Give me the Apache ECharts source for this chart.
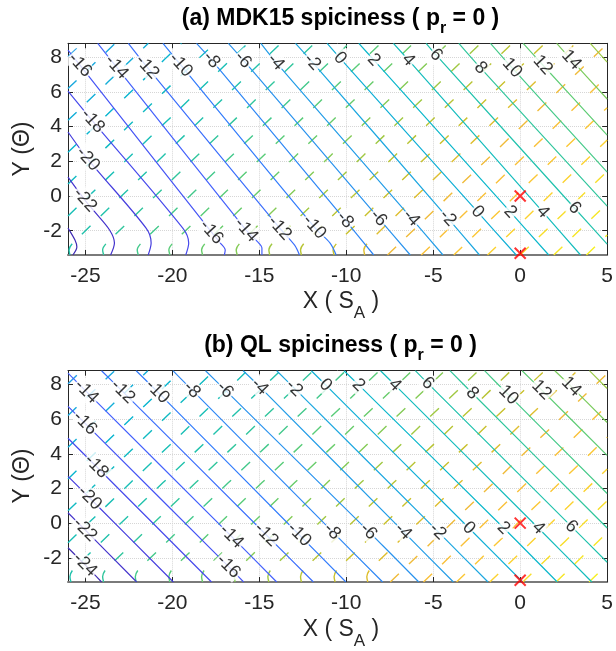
<!DOCTYPE html>
<html><head><meta charset="utf-8">
<script src="https://cdn.jsdelivr.net/npm/echarts@6/dist/echarts.min.js"></script>
<style>html,body{margin:0;padding:0;background:#fff}#c{width:616px;height:651px}</style>
</head><body><div id="c"></div>
<script>
// ---------- shared axes ----------
const xRange = [-26, 5];
const yRange = [-3.4, 8.8];
const xTicks = [-25, -20, -15, -10, -5, 0, 5];
const yTicks = [-2, 0, 2, 4, 6, 8];
const markerX = [0, 0];
const markerY = [0, -3.3];

// ---------- panel (a) MDK15 ----------
const mdkLevels = [-24,-22,-20,-18,-16,-14,-12,-10,-8,-6,-4,-2,0,2,4,6,8,10,12,14,16];
const mdkLines = [
 [[-26,-1.85],[-25.60,-2.54],[-25.49,-2.94],[-25.72,-3.40]],
 [[-26,1.09],[-25.03,-0.23],[-24.46,-0.92],[-23.61,-1.96],[-23.33,-2.71],[-23.55,-3.40]],
 [[-26,3.69],[-24.86,2.13],[-21.51,-1.85],[-21.22,-2.71],[-21.39,-3.40]],
 [[-26,6.05],[-24.58,4.32],[-19.40,-1.85],[-19.06,-2.71],[-19.23,-3.40]],
 [[-26,8.41],[-25.32,7.55],[-17.75,-2.08],[-17.24,-2.71],[-16.96,-3.11],[-17.01,-3.40]],
 [[-24.29,8.8],[-23.21,7.43],[-15.76,-1.96],[-15.19,-2.54],[-14.85,-3.00],[-14.85,-3.40]],
 [[-22.53,8.8],[-21.45,7.43],[-13.83,-1.85],[-12.97,-2.83],[-12.69,-3.40]],
 [[-20.54,8.8],[-19.52,7.55],[-11.84,-1.79],[-10.93,-2.71],[-10.58,-3.40]],
 [[-18.61,8.8],[-17.75,7.84],[-10.07,-1.38],[-8.42,-3.40]],
 [[-16.78,8.8],[-15.93,7.84],[-8.14,-1.27],[-6.32,-3.40]],
 [[-14.91,8.8],[-14.05,7.72],[-6.26,-1.27],[-4.44,-3.40]],
 [[-12.92,8.8],[-11.95,7.72],[-4.16,-1.27],[-2.34,-3.40]],
 [[-11.10,8.8],[-10.36,7.95],[-2.45,-0.92],[-0.23,-3.40]],
 [[-9.28,8.8],[-8.42,7.84],[-0.57,-0.92],[1.64,-3.40]],
 [[-7.29,8.8],[-6.43,7.84],[1.30,-0.92],[3.47,-3.40]],
 [[-5.41,8.8],[-4.84,8.13],[3.12,-0.69],[5.0,-2.77]],
 [[-3.53,8.8],[-2.28,7.38],[5.0,-0.58]],
 [[-1.71,8.8],[-0.46,7.38],[5.0,1.38]],
 [[0.17,8.8],[1.30,7.55],[5.0,3.51]],
 [[2.10,8.8],[2.95,7.84],[5.0,5.59]],
 [[4.03,8.8],[5.0,7.72]]
];
const mdkLabelText = ['-16','-14','-12','-10','-8','-6','-4','-2','0','2','4','6','8','10','12','14',
  '-18','-20','-22',
  '-16','-14','-12','-10','-8','-6','-4','-2','0','2','4','6'];
const mdkLabelX = [-25.32,-23.21,-21.45,-19.52,-17.75,-15.93,-14.05,-11.95,-10.36,-8.42,-6.43,-4.84,-2.28,-0.46,1.30,2.95,
  -24.58,-24.86,-25.03,
  -17.75,-15.76,-13.83,-11.84,-10.07,-8.14,-6.26,-4.16,-2.45,-0.57,1.30,3.12];
const mdkLabelY = [7.55,7.43,7.43,7.55,7.84,7.84,7.72,7.72,7.95,7.84,7.84,8.13,7.38,7.38,7.55,7.84,
  4.32,2.13,-0.23,
  -2.08,-1.96,-1.85,-1.79,-1.38,-1.27,-1.27,-1.27,-0.92,-0.92,-0.92,-0.69];
const mdkDensityLines = [
 [[-26,8.02],[-25.19,8.8]],
 [[-26,6.19],[-23.29,8.8]],
 [[-26,4.36],[-21.38,8.8]],
 [[-26,2.52],[-19.48,8.8]],
 [[-26,0.69],[-17.57,8.8]],
 [[-26,-1.15],[-15.66,8.8]],
 [[-25.89,-3.4],[-25.94,-3.11],[-25.66,-2.65],[-13.76,8.8]],
 [[-23.95,-3.4],[-24.01,-3.11],[-23.72,-2.65],[-11.82,8.8]],
 [[-21.96,-3.4],[-22.02,-3.11],[-21.73,-2.65],[-9.83,8.8]],
 [[-20.14,-3.4],[-20.20,-3.11],[-19.91,-2.65],[-8.01,8.8]],
 [[-18.26,-3.4],[-18.32,-3.11],[-18.04,-2.65],[-6.14,8.8]],
 [[-16.27,-3.4],[-16.33,-3.11],[-16.05,-2.65],[-4.15,8.8]],
 [[-14.40,-3.4],[-14.45,-3.11],[-14.17,-2.65],[-2.27,8.8]],
 [[-12.58,-3.4],[-12.63,-3.11],[-12.35,-2.65],[-0.45,8.8]],
 [[-10.70,-3.4],[-10.76,-3.11],[-10.47,-2.65],[1.43,8.8]],
 [[-8.94,-3.4],[-8.99,-3.11],[-8.71,-2.65],[3.19,8.8]],
 [[-7.63,-3.4],[5.0,8.76]],
 [[-5.69,-3.4],[5.0,6.89]],
 [[-3.82,-3.4],[5.0,5.09]],
 [[-1.88,-3.4],[5.0,3.23]],
 [[0.0,-3.4],[5.0,1.42]],
 [[1.93,-3.4],[5.0,-0.44]],
 [[3.81,-3.4],[5.0,-2.25]]
];
const mdkDensityShade = [0.36,0.39,0.41,0.44,0.47,0.50,0.52,0.55,0.58,0.61,0.63,0.66,0.69,0.72,0.74,0.77,0.80,0.83,0.85,0.88,0.91,0.93,0.96];

// ---------- panel (b) QL ----------
const qlLevels = [-24,-22,-20,-18,-16,-14,-12,-10,-8,-6,-4,-2,0,2,4,6,8,10,12,14,16];
const qlLines = [
 [[-26,-1.42],[-25.03,-2.40],[-24.07,-3.4]],
 [[-26,0.60],[-25.03,-0.38],[-22.05,-3.4]],
 [[-26,2.70],[-24.75,1.45],[-19.94,-3.4]],
 [[-26,4.90],[-24.37,3.27],[-17.75,-3.4]],
 [[-26,6.74],[-25.03,5.77],[-16.78,-2.50],[-15.90,-3.4]],
 [[-26,8.66],[-24.94,7.59],[-16.60,-0.77],[-14.00,-3.4]],
 [[-24.07,8.8],[-22.85,7.59],[-14.61,-0.67],[-11.89,-3.4]],
 [[-22.08,8.8],[-20.86,7.59],[-12.71,-0.67],[-10.02,-3.4]],
 [[-19.97,8.8],[-18.87,7.69],[-10.81,-0.48],[-7.91,-3.4]],
 [[-18.09,8.8],[-16.97,7.69],[-8.72,-0.48],[-5.83,-3.4]],
 [[-15.93,8.8],[-14.98,7.88],[-6.73,-0.48],[-3.84,-3.4]],
 [[-14.00,8.8],[-12.99,7.79],[-4.74,-0.48],[-1.85,-3.4]],
 [[-12.01,8.8],[-11.19,7.98],[-2.95,-0.28],[0.14,-3.4]],
 [[-10.13,8.8],[-9.29,7.98],[-0.95,-0.28],[2.13,-3.4]],
 [[-8.03,8.8],[-7.21,7.98],[1.04,-0.28],[4.12,-3.4]],
 [[-6.03,8.8],[-5.31,8.07],[2.94,-0.19],[5.0,-2.26]],
 [[-4.04,8.8],[-2.75,7.50],[5.0,-0.28]],
 [[-2.05,8.8],[-0.67,7.40],[5.0,1.71]],
 [[0.11,8.8],[1.23,7.69],[5.0,3.91]],
 [[1.99,8.8],[2.94,7.88],[5.0,5.81]],
 [[3.98,8.8],[5.0,7.77]]
];
const qlLabelText = ['-14','-12','-10','-8','-6','-4','-2','0','2','4','6','8','10','12','14',
  '-16','-18','-20','-22','-24',
  '-16','-14','-12','-10','-8','-6','-4','-2','0','2','4','6'];
const qlLabelX = [-24.94,-22.85,-20.86,-18.87,-16.97,-14.98,-12.99,-11.19,-9.29,-7.21,-5.31,-2.75,-0.67,1.23,2.94,
  -25.03,-24.37,-24.75,-25.03,-25.03,
  -16.78,-16.60,-14.61,-12.71,-10.81,-8.72,-6.73,-4.74,-2.95,-0.95,1.04,2.94];
const qlLabelY = [7.59,7.59,7.59,7.69,7.69,7.88,7.79,7.98,7.98,7.98,8.07,7.50,7.40,7.69,7.88,
  5.77,3.27,1.45,-0.38,-2.40,
  -2.50,-0.77,-0.67,-0.67,-0.48,-0.48,-0.48,-0.48,-0.28,-0.28,-0.28,-0.19];
const qlDensityLines = [
 [[-26,8.05],[-25.22,8.8]],
 [[-26,6.21],[-23.32,8.8]],
 [[-26,4.38],[-21.41,8.8]],
 [[-26,2.55],[-19.50,8.8]],
 [[-26,0.71],[-17.60,8.8]],
 [[-26,-1.13],[-15.69,8.8]],
 [[-25.83,-3.4],[-25.89,-3.09],[-25.66,-2.63],[-13.79,8.8]],
 [[-23.95,-3.4],[-24.01,-3.09],[-23.78,-2.63],[-11.91,8.8]],
 [[-22.08,-3.4],[-22.13,-3.09],[-21.90,-2.63],[-10.03,8.8]],
 [[-20.14,-3.4],[-20.20,-3.09],[-19.97,-2.63],[-8.10,8.8]],
 [[-18.26,-3.4],[-18.32,-3.09],[-18.09,-2.63],[-6.22,8.8]],
 [[-16.39,-3.4],[-16.44,-3.09],[-16.22,-2.63],[-4.34,8.8]],
 [[-14.45,-3.4],[-14.51,-3.09],[-14.28,-2.63],[-2.41,8.8]],
 [[-12.58,-3.4],[-12.63,-3.09],[-12.40,-2.63],[-0.53,8.8]],
 [[-10.64,-3.4],[-10.70,-3.09],[-10.47,-2.63],[1.40,8.8]],
 [[-8.76,-3.4],[-8.82,-3.09],[-8.59,-2.63],[3.28,8.8]],
 [[-7.47,-3.4],[5.0,8.63]],
 [[-5.56,-3.4],[5.0,6.79]],
 [[-3.66,-3.4],[5.0,4.96]],
 [[-1.75,-3.4],[5.0,3.12]],
 [[0.15,-3.4],[5.0,1.29]],
 [[2.06,-3.4],[5.0,-0.55]],
 [[3.96,-3.4],[5.0,-2.38]]
];
const qlDensityShade = [0.36,0.39,0.41,0.44,0.47,0.50,0.52,0.55,0.58,0.61,0.63,0.66,0.69,0.72,0.74,0.77,0.80,0.83,0.85,0.88,0.91,0.93,0.96];

// ---------- styling helpers ----------
const PARULA = [[0.2422,0.1504,0.6603],[0.2706,0.2147,0.8364],[0.2813,0.3006,0.9414],[0.2699,0.3892,0.9906],
 [0.1963,0.4847,0.9892],[0.1687,0.5703,0.9359],[0.1248,0.6459,0.8883],[0.0297,0.7082,0.8163],
 [0.0964,0.7500,0.7120],[0.2161,0.7843,0.5923],[0.3909,0.8029,0.4354],[0.6174,0.7876,0.2612],
 [0.8203,0.7498,0.1535],[0.9728,0.7298,0.2394],[0.9892,0.8136,0.1885],[0.9597,0.9135,0.1423],[0.9769,0.9839,0.0805]];
function parula(t){
  t = Math.max(0, Math.min(1, t));
  const f = t * 16, i = Math.min(15, Math.floor(f)), r = f - i;
  const a = PARULA[i], b = PARULA[i+1];
  const c = a.map((v,k)=>Math.round(255*(v + (b[k]-v)*r)));
  return 'rgb(' + c.join(',') + ')';
}
const FONT = 'Liberation Sans, Arial, Helvetica, sans-serif';
const AX = '#262626';

function xAxesFor(g){
  return [
    {type:'value', gridIndex:g, min:xRange[0], max:xRange[1], position:'bottom',
     axisLine:{show:true, onZero:false, lineStyle:{color:'#7a7a7a', width:2}},
     axisTick:{show:true, inside:true, length:5, customValues:xTicks, lineStyle:{color:AX}},
     axisLabel:{show:true, customValues:xTicks, color:AX, fontSize:21, fontFamily:FONT, margin:11},
     splitLine:{show:true, lineStyle:{color:'#d6d6d6', type:'dotted', width:1}}},
    {type:'value', gridIndex:g, min:xRange[0], max:xRange[1], position:'top',
     axisLine:{show:true, onZero:false, lineStyle:{color:AX, width:1}},
     axisTick:{show:true, inside:true, length:5, customValues:xTicks, lineStyle:{color:AX}},
     axisLabel:{show:false}, splitLine:{show:false}}
  ];
}
function yAxesFor(g){
  return [
    {type:'value', gridIndex:g, min:yRange[0], max:yRange[1], position:'left',
     axisLine:{show:true, onZero:false, lineStyle:{color:AX, width:1}},
     axisTick:{show:true, inside:true, length:5, customValues:yTicks, lineStyle:{color:AX}},
     axisLabel:{show:true, customValues:yTicks, color:AX, fontSize:21, fontFamily:FONT, margin:6},
     splitLine:{show:true, lineStyle:{color:'#d6d6d6', type:'dotted', width:1}}},
    {type:'value', gridIndex:g, min:yRange[0], max:yRange[1], position:'right',
     axisLine:{show:true, onZero:false, lineStyle:{color:AX, width:1}},
     axisTick:{show:true, inside:true, length:5, customValues:yTicks, lineStyle:{color:AX}},
     axisLabel:{show:false}, splitLine:{show:false}}
  ];
}

function panelSeries(lines, levels, dLines, dShade, lblText, lblX, lblY, ax, rot){
  const s = [];
  dLines.forEach((pts,i)=>s.push({type:'line', xAxisIndex:ax, yAxisIndex:ax, data:pts, symbol:'none',
    smooth:0.3, silent:true, z:2, lineStyle:{color:parula(dShade[i]), width:1.4, type:[12,14]}}));
  lines.forEach((pts,i)=>s.push({type:'line', xAxisIndex:ax, yAxisIndex:ax, data:pts, symbol:'none',
    smooth:0.3, silent:true, z:3, lineStyle:{color:parula((levels[i]+25)/60), width:1.2}}));
  s.push({type:'scatter', xAxisIndex:ax, yAxisIndex:ax, symbolSize:1, silent:true, z:5,
    itemStyle:{color:'rgba(0,0,0,0)'},
    label:{show:true, position:'inside', formatter:'{b}', rotate:rot, color:'#000', fontSize:18,
      fontFamily:FONT, backgroundColor:'#fff', padding:[0,1]},
    data: lblText.map((t,i)=>({name:t, value:[lblX[i], lblY[i]]}))});
  s.push({type:'scatter', xAxisIndex:ax, yAxisIndex:ax, symbol:'path://M0,0L10,10M10,0L0,10',
    symbolSize:11, z:6, silent:true,
    itemStyle:{color:'rgba(0,0,0,0)', borderColor:'#ff0000', borderWidth:2},
    data: markerX.map((x,i)=>[x, markerY[i]])});
  return s;
}

function titleText(x, y, prefix){
  return {type:'text', x:x, y:y, z:10, silent:true,
    style:{text:'{b|' + prefix + ' spiciness ( p}{s|r}{b| = 0 )}', align:'center', verticalAlign:'middle', fill:'#000',
      rich:{b:{fontSize:23, fontWeight:'bold', fontFamily:FONT, lineHeight:36, verticalAlign:'middle', fill:'#000'},
            s:{fontSize:16, fontWeight:'bold', fontFamily:FONT, lineHeight:16, verticalAlign:'bottom', fill:'#000'}}}};
}
function xNameText(x, y){
  return {type:'text', x:x, y:y, z:10, silent:true,
    style:{text:'{m|X ( S}{s|A}{m| )}', align:'center', verticalAlign:'middle', fill:AX,
      rich:{m:{fontSize:23, fontFamily:FONT, lineHeight:40, verticalAlign:'middle', fill:AX},
            s:{fontSize:17, fontFamily:FONT, lineHeight:17, verticalAlign:'bottom', fill:AX}}}};
}
function yNameText(x, y){
  return {type:'text', x:x, y:y, z:10, silent:true, rotation:Math.PI/2,
    style:{text:'Y (\u0398)', align:'center', verticalAlign:'middle', fill:AX, fontSize:23, fontFamily:FONT}};
}

const option = {
  animation:false,
  backgroundColor:'#fff',
  grid:[{left:68, top:43.3, width:545, height:211.7},{left:68, top:370.7, width:545, height:211.3}],
  xAxis:[...xAxesFor(0), ...xAxesFor(1)],
  yAxis:[...yAxesFor(0), ...yAxesFor(1)],
  graphic:[titleText(340.5, 19, '(a) MDK15'), titleText(340.5, 346, '(b) QL'),
           xNameText(341, 302), xNameText(341, 630), yNameText(23, 149), yNameText(23, 476)],
  series:[
    ...panelSeries(mdkLines, mdkLevels, mdkDensityLines, mdkDensityShade, mdkLabelText, mdkLabelX, mdkLabelY, 0, -48),
    ...panelSeries(qlLines, qlLevels, qlDensityLines, qlDensityShade, qlLabelText, qlLabelX, qlLabelY, 2, -45)
  ]
};
const chart = echarts.init(document.getElementById('c'), null, {renderer:'canvas', width:616, height:651});
chart.setOption(option);
</script>
</body></html>
